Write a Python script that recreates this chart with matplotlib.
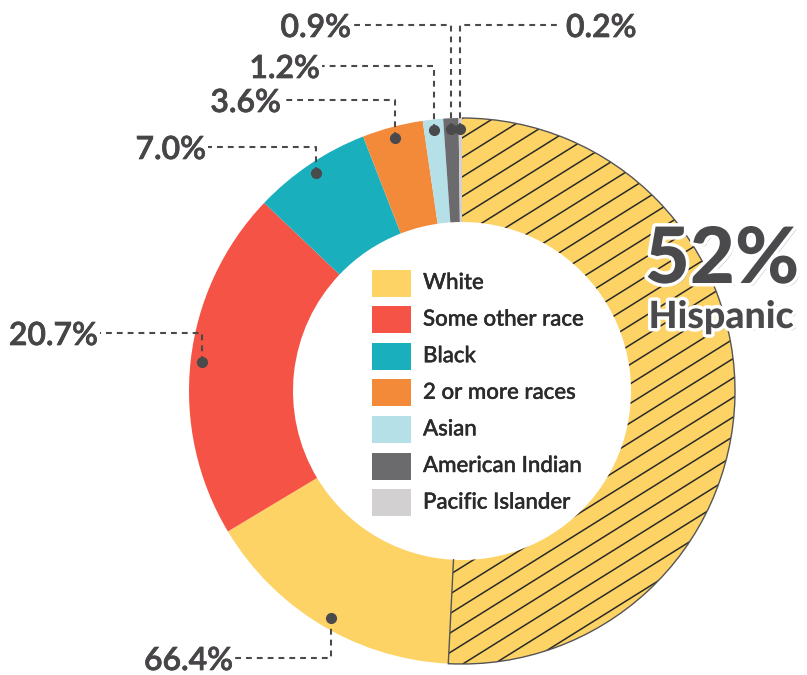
import numpy as np
import matplotlib
matplotlib.use("Agg")
import matplotlib.pyplot as plt
from matplotlib.patches import Wedge, Arc, Rectangle
import matplotlib.patheffects as pe

# ---------------- data ----------------
categories = ["White", "Some other race", "Black", "2 or more races",
              "Asian", "American Indian", "Pacific Islander"]
values = [66.4, 20.7, 7.0, 3.6, 1.2, 0.9, 0.2]
labels = ["66.4%", "20.7%", "7.0%", "3.6%", "1.2%", "0.9%", "0.2%"]
colors = ["#FDD365", "#F45346", "#1AAFBD", "#F28A3A", "#B6E0E8", "#6B6B6D", "#D3D0D1"]
hispanic_share = 52          # headline value
hispanic_arc_share = 50.8    # extent of hatched arc as drawn in the picture
hispanic_label = "Hispanic"

W, H = 807, 675
fig = plt.figure(figsize=(W / 100, H / 100), dpi=100)
ax = fig.add_axes([0, 0, 1, 1])

def py(y):  # pixel y (top-down) -> data y
    return H - y

cx, cy = 462, py(391)
R, r = 273, 169
txt = "#474547"

wedges, _ = ax.pie(values, colors=colors, startangle=90, counterclock=False,
                   radius=R, center=(cx, cy), frame=True,
                   wedgeprops=dict(width=R - r, linewidth=0))
ax.set_xlim(0, W)
ax.set_ylim(0, H)
ax.set_aspect("equal")
ax.axis("off")

# ---------------- Hispanic hatch ----------------
t2 = 90.0
t1 = 90.0 - 360.0 * hispanic_arc_share / 100.0
hw = Wedge((cx, cy), R, t1, t2, width=R - r, facecolor="none", edgecolor="none")
ax.add_patch(hw)
slope = np.tan(np.deg2rad(32))
xs = np.array([cx - 50, cx + R + 20])
for c in np.arange(-800, 800, 19.5):
    ln, = ax.plot(xs, cy + c + slope * (xs - cx), color="#2a2a2a", lw=1.1, zorder=3)
    ln.set_clip_path(hw)
ax.add_patch(Arc((cx, cy), 2 * R, 2 * R, theta1=t1, theta2=t2, color="#555555", lw=1.0, zorder=4))
a = np.deg2rad(t1)
ax.plot([cx + r * np.cos(a), cx + R * np.cos(a)], [cy + r * np.sin(a), cy + R * np.sin(a)],
        color="#555555", lw=1.0, zorder=4)

# ---------------- callouts ----------------
cum = np.cumsum([0] + values)
mid_angles = [90 - 3.6 * (cum[i] + values[i] / 2) for i in range(len(values))]
mid_angles[0] = 240  # custom position for White dot
dot_r = 262
# (elbow y in pixels, label end x, side)
callout = {
    "66.4%": (658, 235, "left"),
    "20.7%": (333, 100, "left"),
    "7.0%": (147, 208, "left"),
    "3.6%": (100, 283, "left"),
    "1.2%": (66, 322, "left"),
    "0.9%": (25, 353, "left"),
    "0.2%": (25, 558, "right"),
}
dcol = "#4a494b"
thick = [pe.withStroke(linewidth=0.5, foreground=txt)]
lfont = dict(fontsize=23, family="Lato", weight="semibold", color=txt, path_effects=thick)
for lab, angd in zip(labels, mid_angles):
    a = np.deg2rad(angd)
    dx, dy = cx + dot_r * np.cos(a), cy + dot_r * np.sin(a)
    ey, lx, side = callout[lab]
    ey = py(ey)
    ax.plot([dx, dx, lx], [dy, ey, ey], color=dcol, lw=1.5, ls=(0, (2.8, 2.4)), zorder=5)
    ax.plot([dx], [dy], "o", color=dcol, ms=7, zorder=6)
    if side == "left":
        ax.text(lx - 2, ey - 3, lab, ha="right", va="center", **lfont)
    else:
        ax.text(lx + 8, ey - 3, lab, ha="left", va="center", **lfont)

# ---------------- legend ----------------
for i, (cat, col) in enumerate(zip(categories, colors)):
    yc = py(283 + i * 36.6)
    ax.add_patch(Rectangle((372, yc - 13.5), 39, 27, facecolor=col, edgecolor="none", zorder=5))
    ax.text(423, yc, cat, ha="left", va="center", fontsize=16, family="Lato",
            weight="medium", color="#2b2b2b", zorder=6,
            path_effects=[pe.withStroke(linewidth=0.3, foreground="#2b2b2b")])

# ---------------- 52% Hispanic ----------------
effects = [pe.SimplePatchShadow(offset=(2, -2), shadow_rgbFace="#888888", alpha=0.6),
           pe.Stroke(linewidth=5, foreground="white"), pe.Normal()]
ax.text(722, py(283), f"{hispanic_share}%", ha="center", va="baseline", fontsize=56,
        family="Lato", weight="black", color="#4a494b", zorder=8, path_effects=effects)
ax.text(721, py(328), hispanic_label, ha="center", va="baseline", fontsize=27,
        family="Lato", weight="black", color="#4a494b", zorder=8, path_effects=effects)

fig.savefig("out.png", dpi=100)
